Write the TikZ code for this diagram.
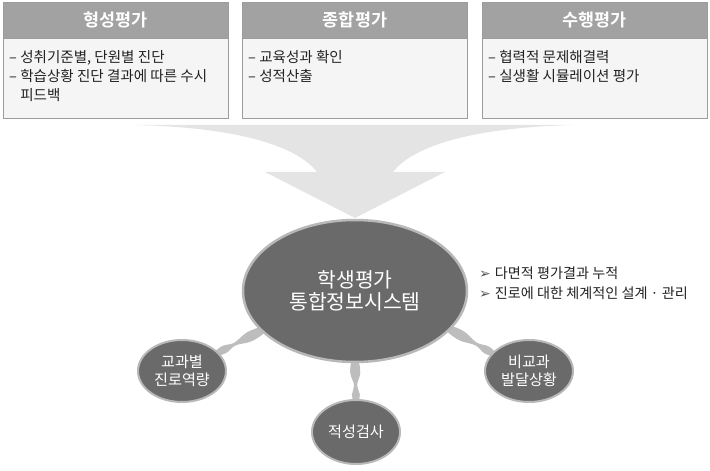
\documentclass[tikz,border=0pt]{standalone}
\usepackage{fontspec}
\setmainfont{Noto Sans CJK KR}[BoldFont={Noto Sans CJK KR Bold}]
\newfontfamily\symfont{DejaVu Sans}
\usetikzlibrary{shapes.geometric,calc,backgrounds}
\definecolor{headgray}{HTML}{A2A2A2}
\definecolor{boxline}{HTML}{9C9C9C}
\definecolor{bodygray}{HTML}{F5F5F5}
\definecolor{arrowgray}{HTML}{E4E4E4}
\definecolor{hubgray}{HTML}{6A6A6A}
\definecolor{rimgray}{HTML}{B8B8B8}
\definecolor{linkgray}{HTML}{BDBDBD}
\definecolor{textdark}{HTML}{222222}
\definecolor{tipgray}{HTML}{555555}
\tikzset{
  head/.style={draw=boxline,fill=headgray,minimum width=225bp,minimum height=36bp,inner sep=0pt,text=white,font=\fontsize{17.5}{20}\selectfont\bfseries},
  body/.style={draw=boxline,fill=bodygray,minimum width=225bp,minimum height=80bp,inner sep=0pt},
  note/.style={anchor=north west,inner sep=0pt,align=left,text=textdark,font=\fontsize{14.6}{19}\selectfont},
  hub/.style={ellipse,draw=rimgray,line width=2bp,fill=hubgray,text=white,align=center,inner sep=0pt},
  link/.style={fill=linkgray}
}
\newcommand\spindle[2]{%
  \coordinate(s)at($(#1)!-3bp!(#2)$);
  \coordinate(e)at($(#2)!-3bp!(#1)$);
  \fill[link]plot[smooth cycle,tension=0.6]coordinates{
    ($(s)!3bp!90:(e)$) ($(s)!0.3!(e)!5bp!90:(e)$) ($(s)!0.6!(e)!1.5bp!90:(e)$) ($(s)!0.82!(e)!4bp!90:(e)$) ($(e)!2bp!-90:(s)$)
    ($(e)!2bp!90:(s)$) ($(s)!0.82!(e)!4bp!-90:(e)$) ($(s)!0.6!(e)!1.5bp!-90:(e)$) ($(s)!0.3!(e)!5bp!-90:(e)$) ($(s)!3bp!-90:(e)$)};}
\newcommand\tip{{\symfont\fontsize{14}{20}\selectfont\color{tipgray}➢}\hspace{4bp}}
\begin{document}
\begin{tikzpicture}[x=1bp,y=-1bp]
    \useasboundingbox(0,0)rectangle(710,471);
    \node(1)[head]at(115.5,20){형성평가};
    \node(2)[head]at(355,20){종합평가};
    \node(3)[head]at(594.5,20){수행평가};
    \node(b1)[body]at(115.5,78){};
    \node(b2)[body]at(355,78){};
    \node(b3)[body]at(594.5,78){};
    \node(t1)[note]at(9,50){– 성취기준별, 단원별 진단\\– 학습상황 진단 결과에 따른 수시\\\phantom{– }피드백};
    \node(t2)[note]at(248,50){– 교육성과 확인\\– 성적산출};
    \node(t3)[note]at(488,50){– 협력적 문제해결력\\– 실생활 시뮬레이션 평가};
    \fill[arrowgray](137,125)--(573,125)..controls(460,128)and(410,150)..(393,172)--(445,172)--(355,218)--(265,172)--(317,172)..controls(300,150)and(250,128)..(137,125)--cycle;
    \node(4)[hub,line width=2.5bp,minimum width=224bp,minimum height=142bp,font=\fontsize{20.5}{22}\selectfont]at(355,291){학생평가\\통합정보시스템};
    \node(5)[hub,minimum width=88bp,minimum height=62bp,font=\fontsize{15.2}{18}\selectfont]at(182,371){교과별\\진로역량};
    \node(6)[hub,minimum width=88bp,minimum height=64bp,font=\fontsize{15.2}{18}\selectfont]at(356,432){적성검사};
    \node(7)[hub,minimum width=88bp,minimum height=62bp,font=\fontsize{15.2}{18}\selectfont]at(529,371){비교과\\발달상황};
    \node(8)[anchor=west,inner sep=0pt,align=left,text=textdark,font=\fontsize{14.2}{20}\selectfont]at(479,283){\tip 다면적 평가결과 누적\\\tip 진로에 대한 체계적인 설계 · 관리};
    \begin{scope}[on background layer]
    \spindle{4.203}{5.27}
    \spindle{4.south}{6.north}
    \spindle{4.338}{7.154}
    \end{scope}
\end{tikzpicture}
\end{document}
